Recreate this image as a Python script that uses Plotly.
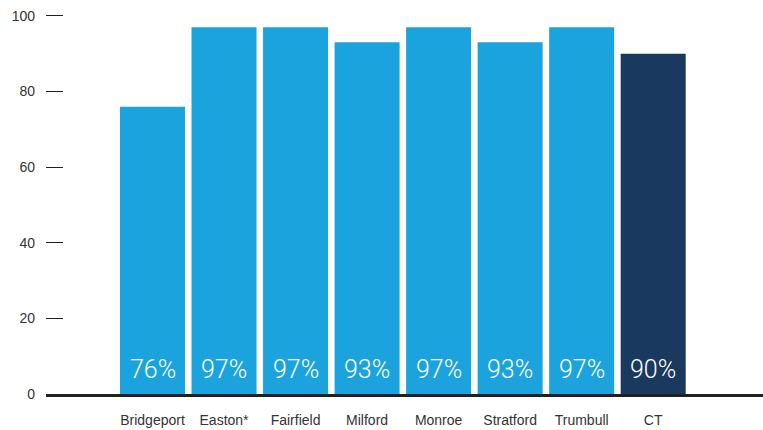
import plotly.graph_objects as go

categories = ["Bridgeport", "Easton*", "Fairfield", "Milford", "Monroe", "Stratford", "Trumbull", "CT"]
values = [76, 97, 97, 93, 97, 93, 97, 90]
bar_labels = ["76%", "97%", "97%", "93%", "97%", "93%", "97%", "90%"]
y_ticks = [0, 20, 40, 60, 80, 100]

BLUE = "#1ba3de"
NAVY = "#1a395e"
colors = [NAVY if c == "CT" else BLUE for c in categories]

fig = go.Figure()
fig.add_trace(go.Bar(
    x=list(range(len(categories))),
    y=values,
    marker=dict(color=colors, line=dict(width=0)),
    width=0.909,
    hoverinfo="skip",
))

for i, lab in enumerate(bar_labels):
    fig.add_annotation(
        x=i, y=0, xref="x", yref="y",
        text=lab, showarrow=False,
        yanchor="middle", yshift=25,
        font=dict(family="Roboto, sans-serif", size=25, color="white", weight=300),
    )

fig.update_layout(
    width=763, height=430,
    margin=dict(l=46, r=0, t=14, b=36),
    paper_bgcolor="white", plot_bgcolor="white",
    showlegend=False,
    font=dict(family="Liberation Sans, Arial, sans-serif", size=14, color="#333333"),
)
fig.update_xaxes(
    range=[-1.489, 8.535],
    automargin=False,
    tickmode="array",
    tickvals=list(range(len(categories))),
    ticktext=categories,
    showgrid=False, zeroline=False,
    showline=True, linewidth=3, linecolor="#231f20",
    ticks="", ticklabelstandoff=11,
    tickfont=dict(size=14, color="#333333"),
)
fig.update_yaxes(
    range=[0, 100.5],
    automargin=False,
    tickmode="array", tickvals=y_ticks,
    showgrid=False, zeroline=False, showline=False,
    ticks="inside", ticklen=17, tickwidth=1, tickcolor="#231f20",
    ticklabelstandoff=10,
    tickfont=dict(size=14, color="#333333"),
)

fig.write_html("out.html", config={"displayModeBar": False},
               post_script="document.body.style.margin='0';")
